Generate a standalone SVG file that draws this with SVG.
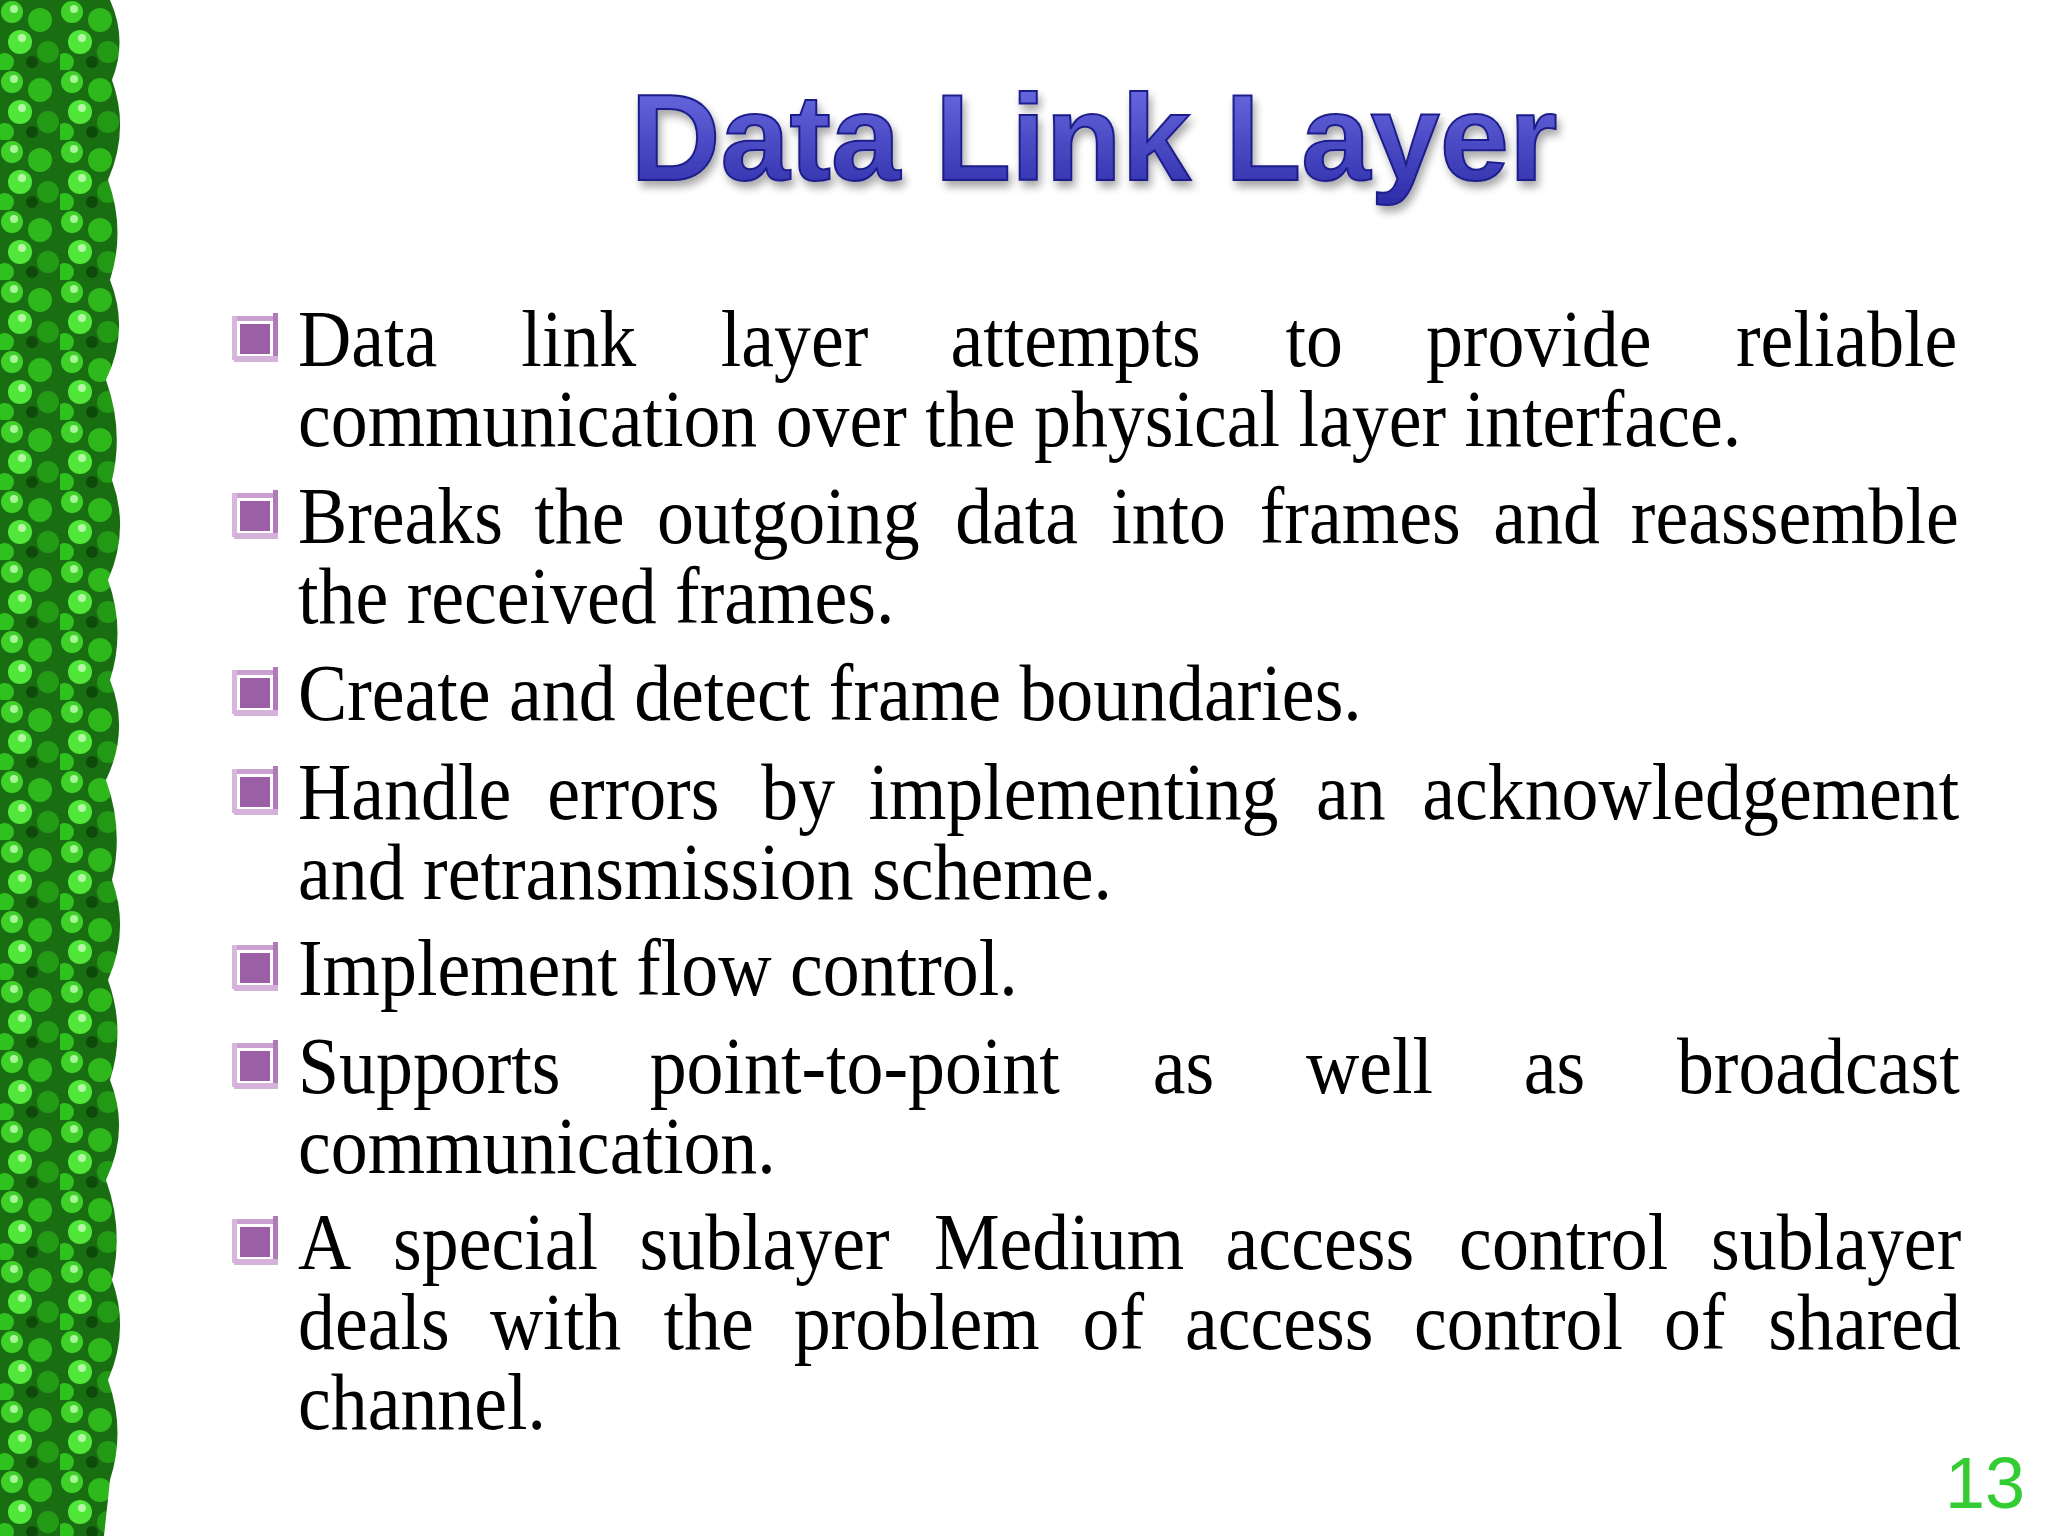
<svg xmlns="http://www.w3.org/2000/svg" width="2048" height="1536" viewBox="0 0 2048 1536">
<defs>
<linearGradient id="tg" x1="0" y1="0" x2="0" y2="1"><stop offset="0" stop-color="#7070e6"/><stop offset="1" stop-color="#2b2ba8"/></linearGradient>
<filter id="sh" x="-10%" y="-20%" width="120%" height="150%"><feGaussianBlur in="SourceAlpha" stdDeviation="4"/><feOffset dx="3" dy="6"/><feComponentTransfer><feFuncA type="linear" slope="0.35"/></feComponentTransfer><feMerge><feMergeNode/><feMergeNode in="SourceGraphic"/></feMerge></filter>
<pattern id="leaf" width="60" height="70" patternUnits="userSpaceOnUse">
<rect width="60" height="70" fill="#1a6e12"/>
<circle cx="12" cy="12" r="11" fill="#3fd12a"/><circle cx="40" cy="20" r="12" fill="#2eb81c"/>
<circle cx="20" cy="42" r="12" fill="#51e63a"/><circle cx="48" cy="52" r="11" fill="#239a16"/>
<circle cx="5" cy="62" r="9" fill="#2fc21e"/><circle cx="32" cy="62" r="6" fill="#0e4a0a"/>
<circle cx="14" cy="9" r="4" fill="#aaf59a"/><circle cx="22" cy="38" r="4" fill="#b8f7a8"/>
</pattern>
<g id="b">
<rect x="0" y="0" width="46" height="5" fill="#c9a0cf"/>
<rect x="0" y="0" width="5" height="44" fill="#d7b7dc"/>
<rect x="41" y="-3" width="5" height="44" fill="#b07ab8"/>
<rect x="2" y="40" width="44" height="6" fill="#d4b2d9"/>
<rect x="8" y="8" width="30" height="30" fill="#9b5fa5"/>
</g>
<style>.t{font-family:"Liberation Serif","Times New Roman",serif;font-size:80px;fill:#000}</style>
</defs>
<rect width="2048" height="1536" fill="#fff"/>
<g id="border">
<path d="M0 0 H110 Q128 40 112 80 Q130 130 108 180 Q126 230 110 280 Q130 330 106 380 Q124 430 112 480 Q130 530 108 580 Q126 630 110 680 Q130 730 106 780 Q124 830 112 880 Q130 930 108 980 Q126 1030 110 1080 Q130 1130 106 1180 Q124 1230 112 1280 Q130 1330 108 1380 Q126 1430 110 1480 L104 1536 H0 Z" fill="url(#leaf)"/>
</g>
<g id="title"><text x="1094" y="180" text-anchor="middle" textLength="927" lengthAdjust="spacingAndGlyphs" font-family="Liberation Sans, Arial, sans-serif" font-weight="bold" font-size="122" fill="url(#tg)" stroke="#1f1f8a" stroke-width="2" filter="url(#sh)">Data Link Layer</text></g>
<g id="bullets">
<use href="#b" x="232" y="316"/><use href="#b" x="232" y="493"/><use href="#b" x="232" y="670"/><use href="#b" x="232" y="769"/><use href="#b" x="232" y="945"/><use href="#b" x="232" y="1043"/><use href="#b" x="232" y="1219"/>
</g>
<g id="text" transform="translate(298 0) scale(0.923 1) translate(-298 0)">
<text class="t" y="366"><tspan x="298">Data</tspan><tspan x="540">link</tspan><tspan x="756">layer</tspan><tspan x="1005">attempts</tspan><tspan x="1368">to</tspan><tspan x="1520">provide</tspan><tspan x="1856">reliable</tspan></text>
<text class="t" x="298" y="446">communication over the physical layer interface.</text>
<text class="t" y="543"><tspan x="298">Breaks</tspan><tspan x="554">the</tspan><tspan x="687">outgoing</tspan><tspan x="1010">data</tspan><tspan x="1179">into</tspan><tspan x="1340">frames</tspan><tspan x="1593">and</tspan><tspan x="1742">reassemble</tspan></text>
<text class="t" x="298" y="623">the received frames.</text>
<text class="t" x="298" y="720">Create and detect frame boundaries.</text>
<text class="t" y="819"><tspan x="298">Handle</tspan><tspan x="568">errors</tspan><tspan x="800">by</tspan><tspan x="916">implementing</tspan><tspan x="1401">an</tspan><tspan x="1516">acknowledgement</tspan></text>
<text class="t" x="298" y="899">and retransmission scheme.</text>
<text class="t" x="298" y="995">Implement flow control.</text>
<text class="t" y="1093"><tspan x="298">Supports</tspan><tspan x="679">point-to-point</tspan><tspan x="1224">as</tspan><tspan x="1390">well</tspan><tspan x="1626">as</tspan><tspan x="1792">broadcast</tspan></text>
<text class="t" x="298" y="1173">communication.</text>
<text class="t" y="1269"><tspan x="298">A</tspan><tspan x="401">special</tspan><tspan x="668">sublayer</tspan><tspan x="987">Medium</tspan><tspan x="1303">access</tspan><tspan x="1556">control</tspan><tspan x="1829">sublayer</tspan></text>
<text class="t" y="1349"><tspan x="298">deals</tspan><tspan x="506">with</tspan><tspan x="694">the</tspan><tspan x="835">problem</tspan><tspan x="1148">of</tspan><tspan x="1259">access</tspan><tspan x="1507">control</tspan><tspan x="1778">of</tspan><tspan x="1891">shared</tspan></text>
<text class="t" x="298" y="1429">channel.</text>
</g>
<g id="pagenum"><text x="2025" y="1508" text-anchor="end" font-family="Liberation Sans, Arial, sans-serif" font-size="72" fill="#33cc33">13</text></g>
</svg>
